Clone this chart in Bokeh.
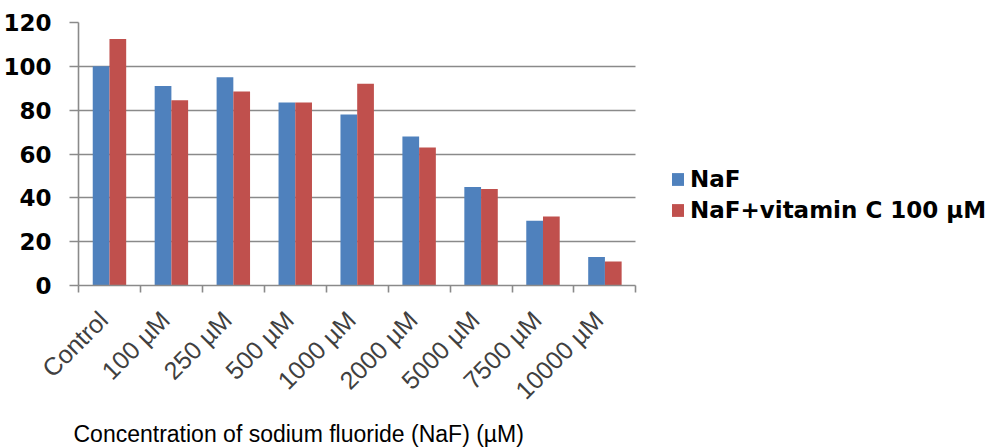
import math
import numpy as np
from bokeh.plotting import figure
from bokeh.models import Range1d, FixedTicker, ColumnDataSource, Title
from bokeh.transform import dodge
from bokeh.embed import file_html
from bokeh.resources import INLINE

categories = ["Control", "100 µM", "250 µM", "500 µM", "1000 µM",
              "2000 µM", "5000 µM", "7500 µM", "10000 µM"]
naf = [100, 91, 95, 83.5, 78, 68, 45, 29.5, 13]
naf_vitc = [112.5, 84.5, 88.5, 83.5, 92, 63, 44, 31.5, 11]
y_ticks = [0, 20, 40, 60, 80, 100, 120]
series_names = ["NaF", "NaF+vitamin C 100 µM"]
x_title = "Concentration of sodium fluoride (NaF) (µM)"

BLUE = "#4F81BD"
RED = "#C0504D"
GRID = "#8a8a8a"

n = len(categories)
centers = np.arange(n) + 0.5
src = ColumnDataSource(dict(center=centers, naf=naf, vitc=naf_vitc))

# layout (pixels)
W, H = 993, 447
LEFT, TOP, BOTTOM_Y, RIGHT_BORDER = 77, 22, 290, 6
CHART_RIGHT = 635
frame_px = W - LEFT - RIGHT_BORDER
chart_px = CHART_RIGHT - LEFT
x_end = n * frame_px / chart_px   # frame also hosts the legend on the right

p = figure(width=W, height=H, x_range=Range1d(0, x_end),
           y_range=Range1d(y_ticks[0], y_ticks[-1]),
           output_backend="svg", toolbar_location=None,
           min_border_left=LEFT, min_border_right=RIGHT_BORDER, min_border_top=TOP,
           min_border_bottom=H - BOTTOM_Y)
p.outline_line_color = None
p.background_fill_color = "white"
p.border_fill_color = "white"

bar_w = 0.27
p.vbar(x=dodge("center", -bar_w / 2), top="naf", width=bar_w, source=src,
       fill_color=BLUE, line_color=None, legend_label=series_names[0])
p.vbar(x=dodge("center", bar_w / 2), top="vitc", width=bar_w, source=src,
       fill_color=RED, line_color=None, legend_label=series_names[1])

# y axis
p.yaxis.ticker = FixedTicker(ticks=y_ticks)
p.yaxis.major_tick_out = 9
p.yaxis.major_tick_in = 0
p.yaxis.minor_tick_line_color = None
p.yaxis.major_tick_line_color = GRID
p.yaxis.axis_line_color = GRID
p.yaxis.major_tick_line_width = 1.6
p.yaxis.axis_line_width = 1.6
p.yaxis.major_label_standoff = 18
p.yaxis.major_label_text_font = "DejaVu Sans"
p.yaxis.major_label_text_font_style = "bold"
p.yaxis.major_label_text_font_size = "23px"
p.yaxis.major_label_text_color = "black"

p.ygrid.ticker = FixedTicker(ticks=y_ticks)
p.ygrid.grid_line_color = GRID
p.ygrid.grid_line_width = 1.6
p.ygrid.cross_bounds = (0, n)
p.xgrid.grid_line_color = None

# x axis: labels near category centres, ticks at category boundaries
label_pos = [float(c - 0.1) for c in centers]
xa = p.xaxis[0]
xa.bounds = (0, n)
xa.ticker = FixedTicker(ticks=label_pos, minor_ticks=list(range(n + 1)))
xa.major_label_overrides = {pos: cat for pos, cat in zip(label_pos, categories)}
xa.major_tick_line_color = None
xa.major_tick_out = 7
xa.major_tick_in = 0
xa.minor_tick_line_color = GRID
xa.minor_tick_line_width = 1.6
xa.minor_tick_out = 7
xa.minor_tick_in = 0
xa.axis_line_color = GRID
xa.axis_line_width = 1.6
xa.major_label_orientation = math.pi / 4
xa.major_label_standoff = 23
xa.major_label_text_font = "Liberation Sans"
xa.major_label_text_font_size = "25px"
xa.major_label_text_color = "#404040"

title = Title(text=x_title, align="left", offset=-5, standoff=2,
              text_font="Liberation Sans", text_font_size="23px",
              text_font_style="normal", text_color="black")
p.add_layout(title, "below")

leg = p.legend[0]
leg.location = (592, 62)
leg.orientation = "vertical"
leg.padding = 0
leg.margin = 0
leg.spacing = 4
leg.border_line_color = None
leg.background_fill_alpha = 0
leg.glyph_width = 15
leg.glyph_height = 16
leg.label_standoff = 5
leg.label_height = 27
leg.label_text_font = "DejaVu Sans"
leg.label_text_font_style = "bold"
leg.label_text_font_size = "23px"
leg.label_text_color = "black"

open("out.html", "w").write(file_html(p, INLINE))
